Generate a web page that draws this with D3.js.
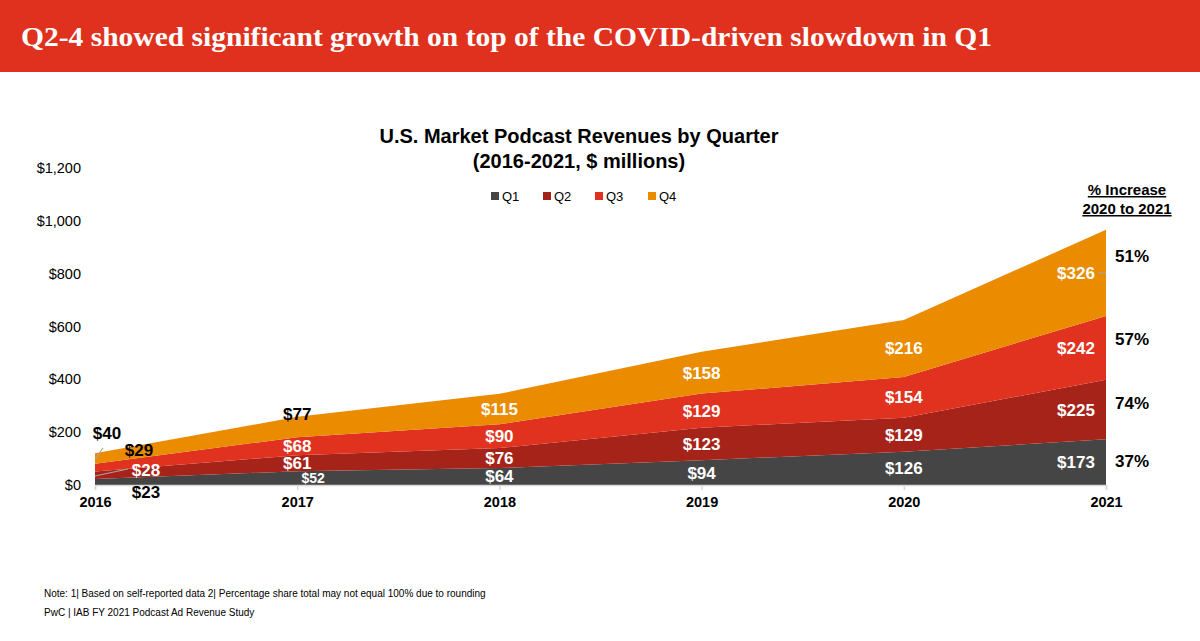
<!DOCTYPE html>
<html>
<head>
<meta charset="utf-8">
<script src="https://cdn.jsdelivr.net/npm/d3@7"></script>
<style>
  html, body { margin: 0; padding: 0; background: #fff; }
  svg { display: block; }
  text { font-family: Arial, "Liberation Sans", sans-serif; }
</style>
</head>
<body>
<svg id="chart" width="1200" height="641"></svg>
<script>
// ---- data ----
const years = [2016, 2017, 2018, 2019, 2020, 2021];
const quarters = ["Q1", "Q2", "Q3", "Q4"];
const q1 = [23, 52, 64, 94, 126, 173];
const q2 = [28, 61, 76, 123, 129, 225];
const q3 = [29, 68, 90, 129, 154, 242];
const q4 = [40, 77, 115, 158, 216, 326];
const pctIncrease = ["37%", "74%", "57%", "51%"]; // Q1..Q4, 2020 to 2021
const yTicks = [0, 200, 400, 600, 800, 1000, 1200];
const colors = ["#454545", "#A6231A", "#E0321F", "#EA8B00"];

const pageTitle = "Q2-4 showed significant growth on top of the COVID-driven slowdown in Q1";
const chartTitle1 = "U.S. Market Podcast Revenues by Quarter";
const chartTitle2 = "(2016-2021, $ millions)";
const noteText = "Note: 1| Based on self-reported data 2| Percentage share total may not equal 100% due to rounding";
const sourceText = "PwC | IAB FY 2021 Podcast Ad Revenue Study";

// ---- build ----
const rows = years.map((y, i) => ({ year: y, Q1: q1[i], Q2: q2[i], Q3: q3[i], Q4: q4[i] }));
const series = d3.stack().keys(quarters)(rows);

const svg = d3.select("#chart");

// header bar
svg.append("rect").attr("x", 0).attr("y", 0).attr("width", 1200).attr("height", 72).attr("fill", "#E0301E");
svg.append("text").attr("x", 21).attr("y", 46)
  .attr("fill", "#fff")
  .style("font-family", "'Liberation Serif', 'DejaVu Serif', serif")
  .style("font-weight", "bold").style("font-size", "28px")
  .attr("textLength", 971).attr("lengthAdjust", "spacingAndGlyphs")
  .text(pageTitle);

const x = d3.scaleLinear().domain([2016, 2021]).range([95, 1106]);
const y = d3.scaleLinear().domain([0, 1200]).range([485, 168]);

// chart titles
svg.append("text").attr("x", 579).attr("y", 143).attr("text-anchor", "middle")
  .style("font-weight", "bold").style("font-size", "20px").attr("fill", "#000").text(chartTitle1);
svg.append("text").attr("x", 579).attr("y", 168).attr("text-anchor", "middle")
  .style("font-weight", "bold").style("font-size", "20px").attr("fill", "#000").text(chartTitle2);

// legend
const legendX = [491, 543, 595, 648];
quarters.forEach((q, i) => {
  const g = svg.append("g").attr("transform", `translate(${legendX[i]},196)`);
  g.append("rect").attr("x", 0).attr("y", -4).attr("width", 8).attr("height", 8).attr("fill", colors[i]);
  g.append("text").attr("x", 11).attr("y", 0).attr("dy", "0.36em")
    .style("font-size", "13px").attr("fill", "#000").text(q);
});

// y axis labels (no line)
const yAxis = d3.axisLeft(y).tickValues(yTicks).tickSize(0).tickPadding(0)
  .tickFormat(d => "$" + d3.format(",")(d));
const yg = svg.append("g").attr("transform", "translate(81,0)").call(yAxis);
yg.select(".domain").remove();
yg.selectAll("text").style("font-size", "14.5px").style("font-family", "Arial, 'Liberation Sans', sans-serif").attr("fill", "#000");

// areas
const area = d3.area()
  .x(d => x(d.data.year))
  .y0(d => y(d[0]))
  .y1(d => y(d[1]));
svg.append("g").selectAll("path").data(series).join("path")
  .attr("d", area).attr("fill", (d, i) => colors[i]);

// x axis
const xAxis = d3.axisBottom(x).tickValues(years).tickFormat(d3.format("d")).tickSize(5).tickPadding(7);
const xg = svg.append("g").attr("transform", "translate(0,485)").call(xAxis);
xg.select(".domain").attr("stroke", "#D9D9D9").attr("stroke-width", 1.5);
xg.selectAll(".tick line").attr("stroke", "#D9D9D9").attr("stroke-width", 1.5);
xg.selectAll("text").style("font-size", "14.5px").style("font-weight", "bold")
  .style("font-family", "Arial, 'Liberation Sans', sans-serif").attr("fill", "#000");

// value labels
const special = {
  "0-0": { dx: 51, y: 492, fill: "#000" },      // $23 below axis
  "0-1": { dx: 51, y: 470, fill: "#fff", leader: [[95, 476], [123, 470], [128, 469]] },
  "0-2": { dx: 44, y: 450, fill: "#000" },
  "0-3": { dx: 12, y: 433, fill: "#000", leader: [[95, 459], [103, 448]] },
  "1-0": { dx: 16, size: 14 },
  "1-3": { y: 414, fill: "#000" }
};
series.forEach((s, si) => {
  s.forEach((d, yi) => {
    const key = yi + "-" + si;
    const sp = special[key] || {};
    let cx = x(d.data.year) + (sp.dx || 0);
    if (yi === years.length - 1) cx -= 30;
    const cy = sp.y !== undefined ? sp.y : y((d[0] + d[1]) / 2);
    if (sp.leader) {
      svg.append("path").attr("d", d3.line()(sp.leader))
        .attr("fill", "none").attr("stroke", "#A6A6A6").attr("stroke-width", 1.2);
    }
    svg.append("text").attr("x", cx).attr("y", cy).attr("dy", "0.35em")
      .attr("text-anchor", "middle")
      .style("font-weight", "bold").style("font-size", (sp.size || 17) + "px")
      .attr("fill", sp.fill || "#fff")
      .text("$" + (d[1] - d[0]));
  });
});
// leader tick for 2021 Q4 label
{
  const last = series[3][years.length - 1];
  const ly = y((last[0] + last[1]) / 2);
  svg.append("line").attr("x1", 1098).attr("x2", x(2021)).attr("y1", ly).attr("y2", ly)
    .attr("stroke", "#A6A6A6").attr("stroke-width", 1.2);
}

// % increase column
const hdr = svg.append("g").attr("transform", "translate(1127,0)");
["% Increase", "2020 to 2021"].forEach((t, i) => {
  hdr.append("text").attr("x", 0).attr("y", 195 + i * 19).attr("text-anchor", "middle")
    .style("font-weight", "bold").style("font-size", "15px").attr("fill", "#000")
    .style("text-decoration", "underline").text(t);
});
const pctY = [461, 403, 339, 256];
pctIncrease.forEach((p, i) => {
  svg.append("text").attr("x", 1115).attr("y", pctY[i]).attr("dy", "0.35em")
    .style("font-weight", "bold").style("font-size", "17px").attr("fill", "#000").text(p);
});

// footnotes
svg.append("text").attr("x", 44).attr("y", 597).style("font-size", "10px").attr("fill", "#000").text(noteText);
svg.append("text").attr("x", 44).attr("y", 616).style("font-size", "10px").attr("fill", "#000").text(sourceText);
</script>
</body>
</html>
